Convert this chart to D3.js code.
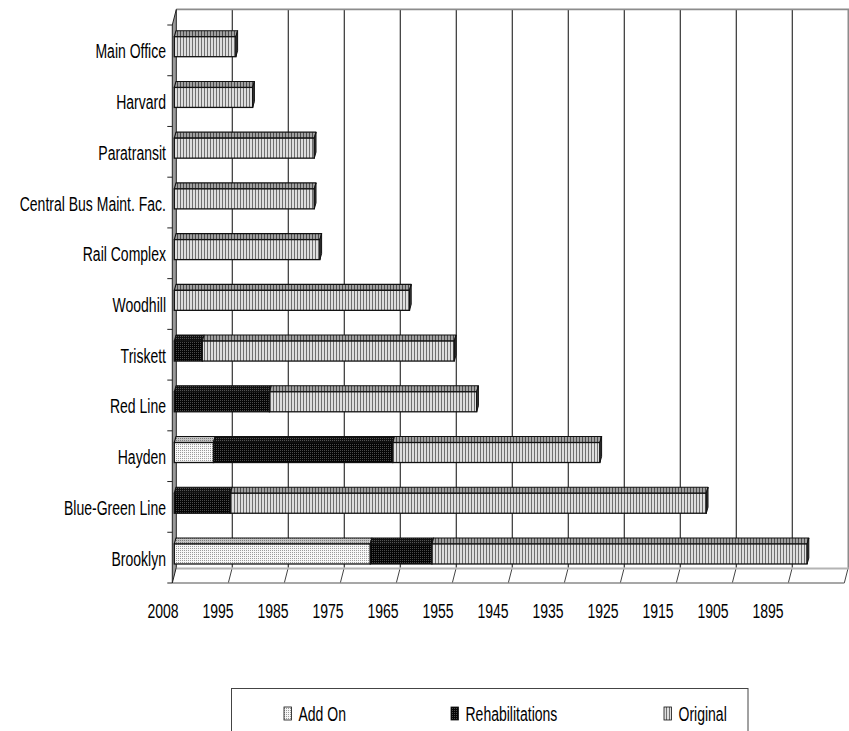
<!DOCTYPE html>
<html>
<head>
<meta charset="utf-8">
<script src="https://cdn.jsdelivr.net/npm/d3@7"></script>
<style>
  html, body { margin: 0; padding: 0; background: #fff; }
  svg { display: block; }
  text { font-family: "Liberation Sans", Arial, sans-serif; fill: #000; }
</style>
</head>
<body>
<svg id="chart" width="849" height="731"></svg>
<script>
// Facility ages, stacked by construction phase (units = years on the axis grid)
const categories = ["Main Office", "Harvard", "Paratransit", "Central Bus Maint. Fac.", "Rail Complex",
  "Woodhill", "Triskett", "Red Line", "Hayden", "Blue-Green Line", "Brooklyn"];
const addOn           = [0, 0, 0, 0, 0, 0, 0, 0, 7, 0, 35];
const rehabilitations = [0, 0, 0, 0, 0, 0, 5, 17, 32, 10, 11];
const original        = [11, 14, 25, 25, 26, 42, 45, 37, 37, 85, 67];

const seriesNames = ["Add On", "Rehabilitations", "Original"];
const tickValues = [0, 10, 20, 30, 40, 50, 60, 70, 80, 90, 100, 110];
const tickLabels = ["2008", "1995", "1985", "1975", "1965", "1955", "1945", "1935", "1925", "1915", "1905", "1895"];

const svg = d3.select("#chart");
const FONT = 20, SQUEEZE = 0.7;

// narrow the glyphs like a condensed face
function squeeze(sel) {
  sel.each(function () {
    const w = this.getComputedTextLength();
    this.setAttribute("textLength", (w * SQUEEZE).toFixed(2));
    this.setAttribute("lengthAdjust", "spacingAndGlyphs");
  });
}

// Scales: x at the bars' depth, y bands on the front plane
const x = d3.scaleLinear().domain([0, 120]).range([174.3, 846.3]);
const y = d3.scaleBand().domain(categories).range([25, 583]).padding(0);
const DX = 2, DY = 7.8;           // half of the wall depth (oblique projection)
const front = v => x(v) - DX, back = v => x(v) + DX;
const yTopBack = y.range()[0] - 2 * DY, yBotBack = y.range()[1] - 2 * DY;
// axis labels sit on their own slightly tighter spacing below the floor
const xLabel = d3.scaleLinear().domain([0, 110]).range([163, 768]);

// ---- patterns ----
const defs = svg.append("defs");
function pattern(id, w, h, bg, marks) {
  const p = defs.append("pattern").attr("id", id).attr("patternUnits", "userSpaceOnUse")
    .attr("width", w).attr("height", h);
  p.append("rect").attr("width", w).attr("height", h).attr("fill", bg);
  marks.forEach(m => p.append("rect").attr("x", m[0]).attr("y", m[1]).attr("width", m[2]).attr("height", m[3]).attr("fill", m[4]));
}
pattern("origFront", 3, 3, "#dedede", [[0, 0, 1, 3, "#707070"]]);
pattern("origTop", 3, 3, "#a0a0a0", [[0, 0, 1, 3, "#4a4a4a"]]);
pattern("addFront", 2, 2, "#f6f6f6", [[0, 0, 1, 1, "#9a9a9a"]]);
pattern("addTop", 2, 2, "#c4c4c4", [[0, 0, 1, 1, "#7a7a7a"]]);
pattern("rehabFront", 2, 2, "#050505", [[0, 0, 1, 1, "#4a4a4a"]]);
pattern("rehabTop", 2, 2, "#101010", [[0, 0, 1, 1, "#555"]]);

const fills = {
  "Add On": { front: "url(#addFront)", top: "url(#addTop)", side: "#777" },
  "Rehabilitations": { front: "url(#rehabFront)", top: "url(#rehabTop)", side: "#000" },
  "Original": { front: "url(#origFront)", top: "url(#origTop)", side: "#3a3a3a" }
};

// ---- walls & floor ----
const walls = svg.append("g");
walls.append("path")
  .attr("d", `M${front(0)},${y.range()[1]} L${back(0)},${yBotBack} L${back(120)},${yBotBack} L${front(120)},${y.range()[1]} Z`)
  .attr("fill", "#fff").attr("stroke", "none");
// back-wall gridlines
walls.selectAll("line.grid").data(tickValues.slice(1)).join("line")
  .attr("class", "grid")
  .attr("x1", d => back(d)).attr("x2", d => back(d))
  .attr("y1", yTopBack).attr("y2", yBotBack)
  .attr("stroke", "#333").attr("stroke-width", 1.2);
// floor diagonals
walls.selectAll("line.diag").data(tickValues.slice(1).concat([120])).join("line")
  .attr("class", "diag")
  .attr("x1", d => back(d)).attr("x2", d => front(d))
  .attr("y1", yBotBack).attr("y2", y.range()[1])
  .attr("stroke", "#444").attr("stroke-width", 1);
// back wall outline (top, right) and floor edges
walls.append("path")
  .attr("d", `M${back(0)},${yTopBack} L${back(120)},${yTopBack} L${back(120)},${yBotBack}`)
  .attr("fill", "none").attr("stroke", "#8c8c8c").attr("stroke-width", 1.6);
walls.append("line")
  .attr("x1", back(0)).attr("x2", back(120)).attr("y1", yBotBack + 1).attr("y2", yBotBack + 1)
  .attr("stroke", "#b4b4b4").attr("stroke-width", 2);
walls.append("line")
  .attr("x1", front(0)).attr("x2", front(120)).attr("y1", y.range()[1]).attr("y2", y.range()[1])
  .attr("stroke", "#8a8a8a").attr("stroke-width", 1.4);
// left wall
walls.append("path")
  .attr("d", `M${front(0)},${y.range()[0]} L${back(0)},${yTopBack} L${back(0)},${yBotBack} L${front(0)},${y.range()[1]} Z`)
  .attr("fill", "#9a9a9a").attr("stroke", "#222").attr("stroke-width", 1);

// ---- bars ----
const rows = categories.map((c, i) => {
  const vals = [addOn[i], rehabilitations[i], original[i]];
  let acc = 0;
  const segs = [];
  vals.forEach((v, k) => {
    if (v > 0) segs.push({ key: seriesNames[k], x0: acc, x1: acc + v });
    acc += v;
  });
  return { cat: c, segs, total: acc };
});

const FACE_OFF = 11.7, FACE_H = 20, TDX = 1.7, TDY = 6;
const barG = svg.append("g");
rows.forEach(r => {
  const yt = y(r.cat) + FACE_OFF, yb = yt + FACE_H;
  const g = barG.append("g");
  g.selectAll("path.top").data(r.segs).join("path")
    .attr("class", "top")
    .attr("d", s => `M${x(s.x0)},${yt} L${x(s.x0) + TDX},${yt - TDY} L${x(s.x1) + TDX},${yt - TDY} L${x(s.x1)},${yt} Z`)
    .attr("fill", s => fills[s.key].top).attr("stroke", "#111").attr("stroke-width", 1.1).attr("stroke-linejoin", "round");
  g.selectAll("rect.front").data(r.segs).join("rect")
    .attr("class", "front")
    .attr("x", s => x(s.x0)).attr("y", yt)
    .attr("width", s => x(s.x1) - x(s.x0)).attr("height", FACE_H)
    .attr("fill", s => fills[s.key].front).attr("stroke", "#111").attr("stroke-width", 1.3);
  const last = r.segs[r.segs.length - 1];
  g.append("path")
    .attr("d", `M${x(last.x1)},${yt} L${x(last.x1) + TDX},${yt - TDY} L${x(last.x1) + TDX},${yb - TDY} L${x(last.x1)},${yb} Z`)
    .attr("fill", fills[last.key].side).attr("stroke", "#111").attr("stroke-width", 1);
});

// ---- category axis ----
const yAxis = svg.append("g");
yAxis.selectAll("line.tick").data(categories.map(c => y(c)).concat([y.range()[1]])).join("line")
  .attr("class", "tick")
  .attr("x1", front(0) - 5).attr("x2", front(0)).attr("y1", d => d).attr("y2", d => d)
  .attr("stroke", "#222").attr("stroke-width", 1);
yAxis.selectAll("text").data(categories).join("text")
  .attr("x", 166).attr("y", d => y(d) + y.bandwidth() / 2 + 8)
  .attr("text-anchor", "end").attr("font-size", FONT)
  .text(d => d).call(squeeze);

// ---- value axis labels ----
const xAxis = svg.append("g");
xAxis.selectAll("text").data(tickValues).join("text")
  .attr("x", d => xLabel(d)).attr("y", 618)
  .attr("text-anchor", "middle").attr("font-size", FONT)
  .text((d, i) => tickLabels[i]).call(squeeze);

// ---- legend ----
const leg = svg.append("g");
leg.append("rect").attr("x", 231.5).attr("y", 688.5).attr("width", 516.5).attr("height", 60)
  .attr("fill", "#fff").attr("stroke", "#444").attr("stroke-width", 1);
const legX = [284, 451, 664];
seriesNames.forEach((name, i) => {
  leg.append("rect").attr("x", legX[i]).attr("y", 707).attr("width", 7.5).attr("height", 13)
    .attr("fill", fills[name].front).attr("stroke", "#111").attr("stroke-width", 0.8);
  leg.append("text").attr("x", legX[i] + 14.5).attr("y", 721).attr("font-size", FONT)
    .text(name).call(squeeze);
});
</script>
</body>
</html>
